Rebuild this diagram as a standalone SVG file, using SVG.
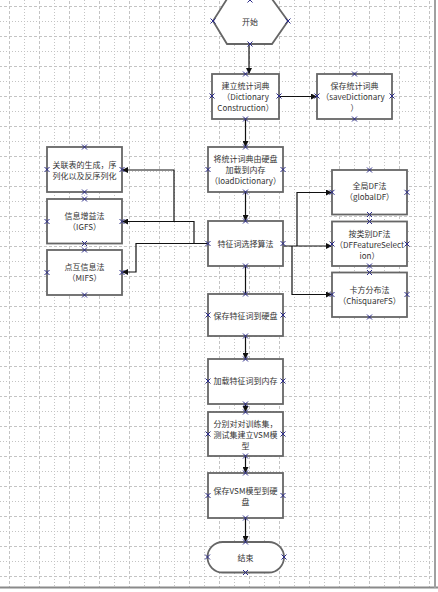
<svg xmlns="http://www.w3.org/2000/svg" xmlns:xlink="http://www.w3.org/1999/xlink" width="438" height="592" viewBox="0 0 438 592">
<style>
.box{fill:#fff;stroke:#666;stroke-width:1.8}
.t{font-family:"Noto Sans CJK SC","Noto Sans",sans-serif;font-size:8px;fill:#333;text-anchor:middle;dominant-baseline:central}
.c{fill:none;stroke:#111;stroke-width:1.2}
.xm{fill:none;stroke:#2a2a88;stroke-width:1}
.gd{stroke:#c4c4c4;stroke-width:1;stroke-dasharray:3 2}
.gt{stroke:#c4c4c4;stroke-width:1;stroke-dasharray:1 2}
</style>
<defs>
<pattern id="grid" x="9" y="6" width="30" height="30" patternUnits="userSpaceOnUse">
<line class="gd" x1="0.5" y1="0" x2="0.5" y2="30"/>
<line class="gt" x1="15.5" y1="0" x2="15.5" y2="30"/>
<line class="gd" x1="0" y1="0.5" x2="30" y2="0.5"/>
<line class="gt" x1="0" y1="15.5" x2="30" y2="15.5"/>
</pattern>
<path id="x" class="xm" d="M-2.5,-2.5L2.5,2.5M-2.5,2.5L2.5,-2.5"/>
<marker id="ah" viewBox="0 0 10 10" refX="10" refY="5" markerWidth="6" markerHeight="6" orient="auto" markerUnits="userSpaceOnUse">
<path d="M0,0L10,5L0,10z" fill="#111"/>
</marker>
</defs>
<rect width="438" height="592" fill="#fff"/>
<rect width="434" height="587" fill="url(#grid)"/>
<line x1="0" y1="587.5" x2="438" y2="587.5" stroke="#8a8a8a" stroke-width="2"/>
<line x1="435" y1="0" x2="435" y2="588" stroke="#a0a0a0" stroke-width="2"/>

<g id="connectors">
<path class="c" d="M249,44V74" marker-end="url(#ah)"/>
<path class="c" d="M279,96.5H317" marker-end="url(#ah)"/>
<path class="c" d="M245.5,119V147" marker-end="url(#ah)"/>
<path class="c" d="M245.5,192V221" marker-end="url(#ah)"/>
<path class="c" d="M208,243.5H194V221.5H122" marker-end="url(#ah)"/>
<path class="c" d="M174,221.5V170H122" marker-end="url(#ah)"/>
<path class="c" d="M208,243.5H136V272H122" marker-end="url(#ah)"/>
<path class="c" d="M283,246H332" marker-end="url(#ah)"/>
<path class="c" d="M297,246V192.5H332" marker-end="url(#ah)"/>
<path class="c" d="M292,246V294.5H332" marker-end="url(#ah)"/>
<path class="c" d="M245.5,266V294"/>
<path class="c" d="M245.5,336V359" marker-end="url(#ah)"/>
<path class="c" d="M245.5,404V412" marker-end="url(#ah)"/>
<path class="c" d="M245.5,456V473" marker-end="url(#ah)"/>
<path class="c" d="M245.5,518V542" marker-end="url(#ah)"/>
</g>

<g id="start">
<polygon class="box" points="227,-1 272,-1 288,21 272,44 227,44 213,21"/>
<text class="t" x="250" y="21">开始</text>
<use href="#x" x="250" y="0"/><use href="#x" x="213" y="21"/><use href="#x" x="288" y="21"/><use href="#x" x="250" y="44"/>
</g>

<g id="build">
<rect class="box" x="212" y="74" width="67" height="45"/>
<text class="t" x="245.5" y="85">建立统计词典</text>
<text class="t" x="245.5" y="96">（Dictionary</text>
<text class="t" x="245.5" y="107">Construction）</text>
<use href="#x" x="245.5" y="74"/><use href="#x" x="212" y="96"/><use href="#x" x="279" y="96"/><use href="#x" x="245.5" y="119"/>
</g>

<g id="save-dict">
<rect class="box" x="317" y="74" width="75" height="45"/>
<text class="t" x="354.5" y="85">保存统计词典</text>
<text class="t" x="353" y="96">（saveDictionary</text>
<text class="t" x="354.5" y="107">）</text>
<use href="#x" x="354.5" y="74"/><use href="#x" x="317" y="96"/><use href="#x" x="392" y="96"/><use href="#x" x="354.5" y="119"/>
</g>

<g id="load-dict">
<rect class="box" x="208" y="147" width="75" height="45"/>
<text class="t" x="245.5" y="158.5">将统计词典由硬盘</text>
<text class="t" x="245.5" y="169.5">加载到内存</text>
<text class="t" x="245.5" y="180.5">（loadDictionary）</text>
<use href="#x" x="245.5" y="147"/><use href="#x" x="208" y="169.5"/><use href="#x" x="283" y="169.5"/><use href="#x" x="245.5" y="192"/>
</g>

<g id="assoc">
<rect class="box" x="47" y="147" width="75" height="45"/>
<text class="t" x="84.5" y="164">关联表的生成，序</text>
<text class="t" x="84.5" y="175">列化以及反序列化</text>
<use href="#x" x="84.5" y="147"/><use href="#x" x="47" y="169.5"/><use href="#x" x="122" y="169.5"/><use href="#x" x="84.5" y="192"/>
</g>

<g id="igfs">
<rect class="box" x="47" y="199" width="75" height="44.5"/>
<text class="t" x="84.5" y="215.5">信息增益法</text>
<text class="t" x="84.5" y="226.5">（IGFS）</text>
<use href="#x" x="84.5" y="199"/><use href="#x" x="47" y="221.5"/><use href="#x" x="122" y="221.5"/><use href="#x" x="84.5" y="243.5"/>
</g>

<g id="mifs">
<rect class="box" x="47" y="250" width="75" height="45"/>
<text class="t" x="84.5" y="266.5">点互信息法</text>
<text class="t" x="84.5" y="277.5">（MIFS）</text>
<use href="#x" x="84.5" y="250"/><use href="#x" x="47" y="272.5"/><use href="#x" x="122" y="272.5"/><use href="#x" x="84.5" y="295"/>
</g>

<g id="feature">
<rect class="box" x="208" y="221" width="75" height="45"/>
<text class="t" x="245.5" y="243.5">特征词选择算法</text>
<use href="#x" x="245.5" y="221"/><use href="#x" x="208" y="243.5"/><use href="#x" x="283" y="243.5"/><use href="#x" x="245.5" y="266"/>
</g>

<g id="globaldf">
<rect class="box" x="332" y="170" width="75" height="44.5"/>
<text class="t" x="369.5" y="185.5">全局DF法</text>
<text class="t" x="369.5" y="196.5">（globalDF）</text>
<use href="#x" x="369.5" y="170"/><use href="#x" x="332" y="192.3"/><use href="#x" x="407" y="192.3"/><use href="#x" x="369.5" y="214.5"/>
</g>

<g id="dffs">
<rect class="box" x="332" y="221.5" width="75" height="44.5"/>
<text class="t" x="369.5" y="233">按类别DF法</text>
<text class="t" x="369.5" y="244">（DFFeatureSelect</text>
<text class="t" x="369.5" y="255">ion）</text>
<use href="#x" x="369.5" y="221.5"/><use href="#x" x="332" y="244"/><use href="#x" x="407" y="244"/><use href="#x" x="369.5" y="266"/>
</g>

<g id="chi">
<rect class="box" x="332" y="272.5" width="75" height="44.5"/>
<text class="t" x="369.5" y="289.5">卡方分布法</text>
<text class="t" x="369.5" y="300.5">（ChisquareFS）</text>
<use href="#x" x="369.5" y="272.5"/><use href="#x" x="332" y="294.5"/><use href="#x" x="407" y="294.5"/><use href="#x" x="369.5" y="317"/>
</g>

<g id="save-feat">
<rect class="box" x="208" y="294" width="75" height="42"/>
<text class="t" x="245.5" y="315">保存特征词到硬盘</text>
<use href="#x" x="245.5" y="294"/><use href="#x" x="208" y="315"/><use href="#x" x="283" y="315"/><use href="#x" x="245.5" y="336"/>
</g>

<g id="load-feat">
<rect class="box" x="208" y="359" width="75" height="45"/>
<text class="t" x="245.5" y="380.5">加载特征词到内存</text>
<use href="#x" x="245.5" y="359"/><use href="#x" x="208" y="381"/><use href="#x" x="283" y="381"/><use href="#x" x="245.5" y="404"/>
</g>

<g id="vsm">
<rect class="box" x="208" y="412" width="75" height="44"/>
<text class="t" x="245.5" y="423.5">分别对对训练集，</text>
<text class="t" x="245.5" y="434.5">测试集建立VSM模</text>
<text class="t" x="245.5" y="445.5">型</text>
<use href="#x" x="245.5" y="412"/><use href="#x" x="208" y="434"/><use href="#x" x="283" y="434"/><use href="#x" x="245.5" y="456"/>
</g>

<g id="save-vsm">
<rect class="box" x="208" y="473" width="75" height="45"/>
<text class="t" x="245.5" y="490.5">保存VSM模型到硬</text>
<text class="t" x="245.5" y="501.5">盘</text>
<use href="#x" x="245.5" y="473"/><use href="#x" x="208" y="495.5"/><use href="#x" x="283" y="495.5"/><use href="#x" x="245.5" y="518"/>
</g>

<g id="end">
<rect class="box" x="207.5" y="542" width="76.5" height="30.5" rx="15.25"/>
<text class="t" x="245.5" y="557">结束</text>
<use href="#x" x="245.5" y="542"/><use href="#x" x="207.5" y="557"/><use href="#x" x="284" y="557"/><use href="#x" x="245.5" y="572.5"/>
</g>
</svg>
